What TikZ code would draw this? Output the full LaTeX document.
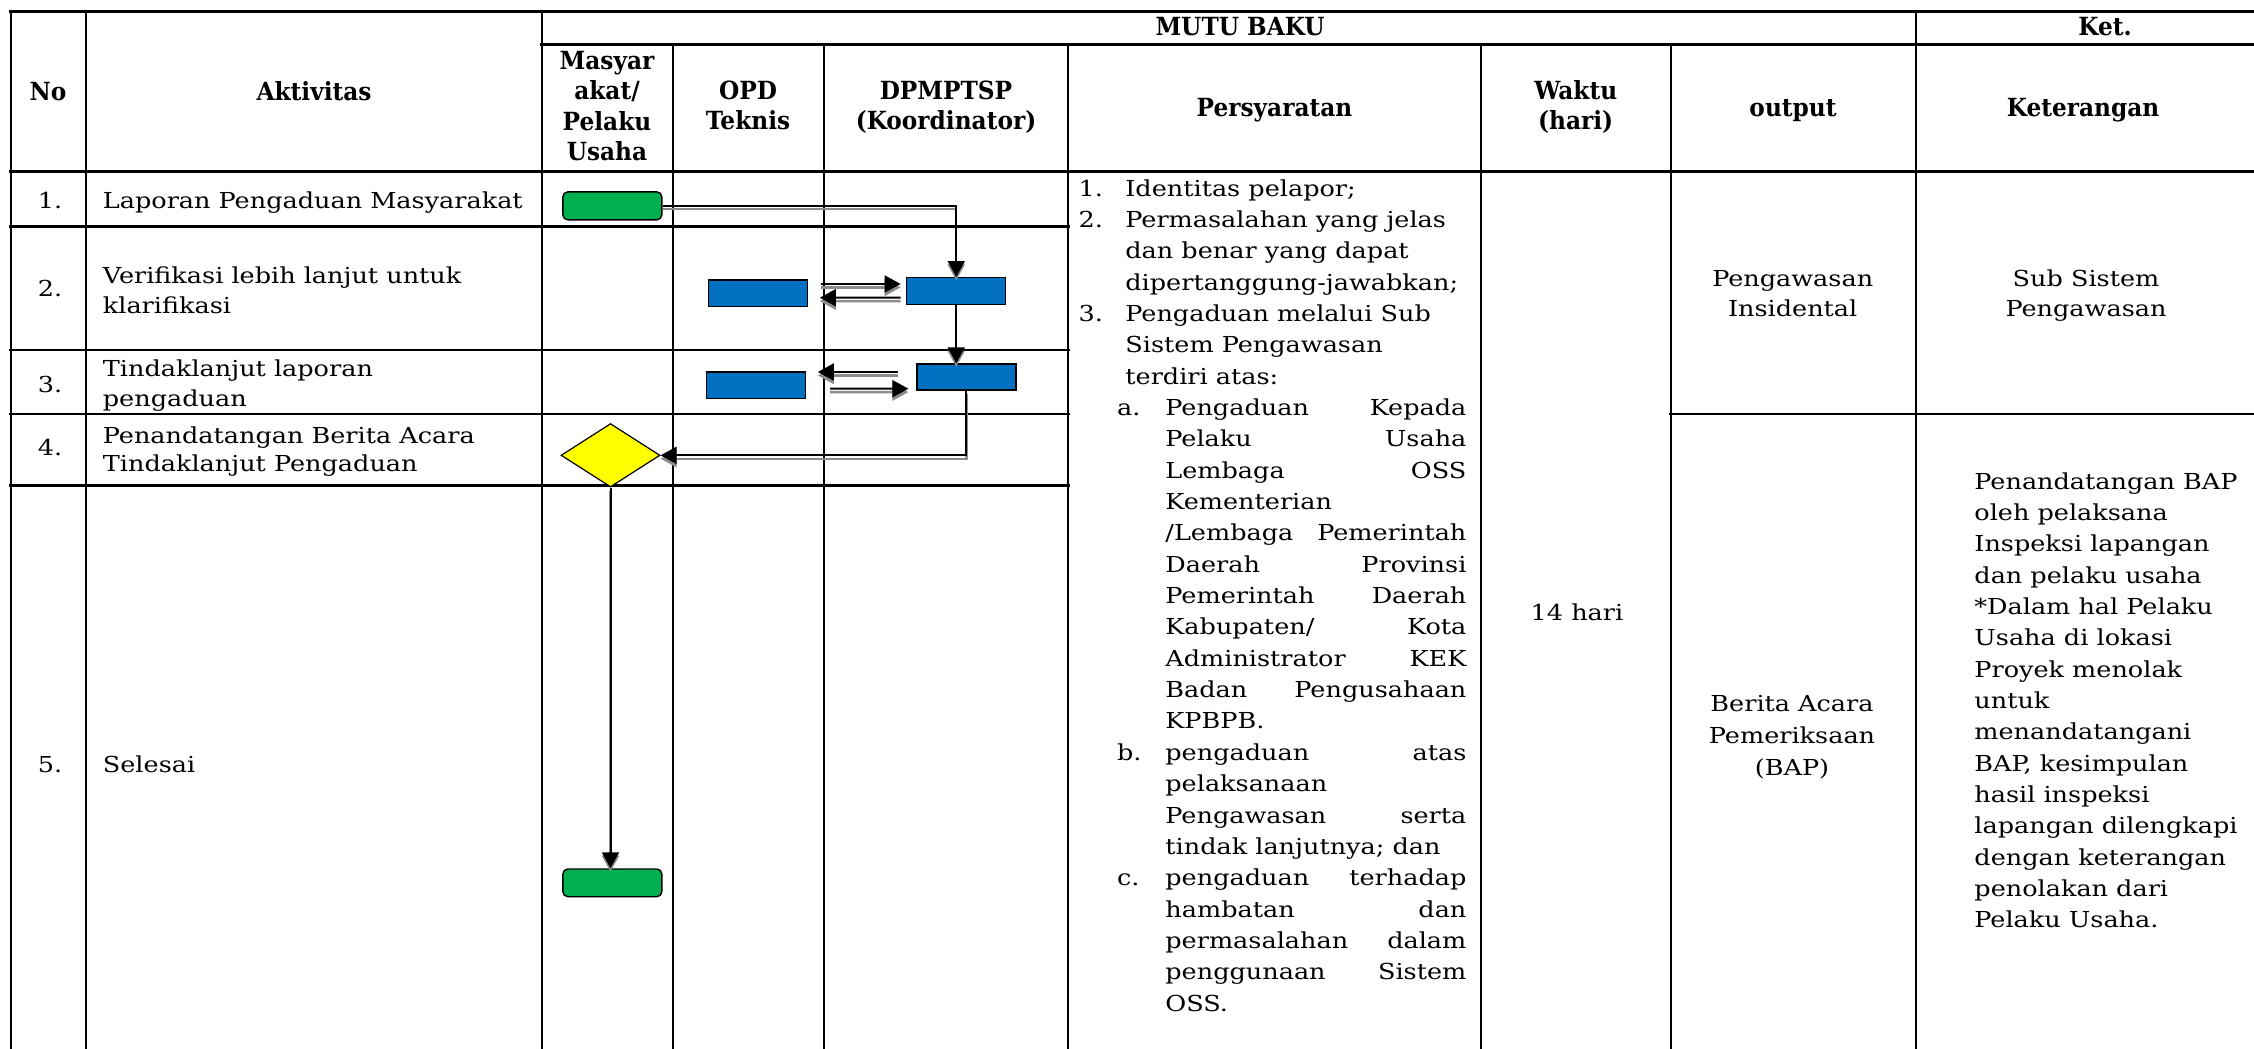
\documentclass[tikz,border=0pt]{standalone}
\usepackage{fontspec}
\setmainfont{DejaVu Serif}[FakeStretch=1.16]
\newfontfamily\hdfont{DejaVu Serif}[FakeStretch=0.93]
\usetikzlibrary{arrows.meta,calc,shapes.geometric}

\definecolor{grn}{HTML}{00B050}
\definecolor{blu}{HTML}{0070C0}
\definecolor{ylw}{HTML}{FFFF00}
\definecolor{shd}{HTML}{8C8C8C}

\newcommand\tl[1]{\begin{tabular}[t]{@{}l@{}}#1\end{tabular}}
\newcommand\tc[1]{\begin{tabular}[t]{@{}c@{}}#1\end{tabular}}
\newcommand\Num[1]{\makebox[23.35pt][l]{#1}}
\newcommand\Ind{\hspace*{23.35pt}}
\newcommand\Sub[1]{\hspace*{19.2pt}\makebox[24.15pt][l]{#1}}
\newcommand\SInd{\hspace*{43.35pt}}
\newcommand\J[1]{\makebox[150.5pt][s]{#1}}

\begin{document}
\begin{tikzpicture}[x=0.5pt,y=-0.5pt,
  hl/.style={line width=1.3pt, line cap=rect},
  vl/.style={line width=1pt},
  txt/.style={inner sep=0pt, font=\fontsize{11}{15.675}\selectfont},
  hdr/.style={inner sep=0pt, font=\hdfont\bfseries\fontsize{12.5}{15.25}\selectfont},
  term/.style={draw=black, line width=0.7pt, fill=grn, rounded corners=2.5pt,
    minimum width=49.5pt, minimum height=14pt, inner sep=0pt},
  proc/.style={draw=black, line width=0.7pt, fill=blu,
    minimum width=49.5pt, minimum height=13.3pt, inner sep=0pt},
  dec/.style={diamond, draw=black, line width=0.6pt, fill=ylw,
    minimum width=49.5pt, minimum height=31.75pt, inner sep=0pt},
  conn/.style={line width=1pt, draw=black, -{Triangle[length=8pt,width=8.5pt]},
    preaction={draw=shd, line width=1.2pt, transform canvas={yshift=-1.7pt}}}
]
\fill[white] (0,0) rectangle (2254,1049);
\useasboundingbox (0,0) rectangle (2254,1049);

% ---------- table grid ----------
\draw[hl] (10.5,11.7) -- (2254,11.7);
\draw[hl] (541.6,44.3) -- (2254,44.3);
\draw[hl] (10.5,171.7) -- (2254,171.7);
\draw[hl] (10.5,226.7) -- (1068.3,226.7);
\draw[hl] (10.5,350) -- (1068.3,350);
\draw[hl] (10.5,414) -- (1068.3,414);
\draw[hl] (1670.7,414) -- (2254,414);
\draw[hl] (10.5,485.7) -- (1068.3,485.7);
\foreach \x in {10.5,86,541.6,1916} \draw[vl] (\x,11.7) -- (\x,1049);
\foreach \x in {672.9,823.6,1068.3,1480.7,1670.7} \draw[vl] (\x,44.3) -- (\x,1049);

% ---------- header ----------
\node[hdr, anchor=base] (hNo)  at (48,100)    {No};
\node[hdr, anchor=base] (hAkt) at (314,100)   {Aktivitas};
\node[hdr, anchor=base] (hMutu) at (1240,35.5) {MUTU BAKU};
\node[hdr, anchor=base] (hKet) at (2105,35.5) {Ket.};
\node[hdr, anchor=base] (hMas) at (607,69)    {\tc{Masyar\\akat/\\Pelaku\\Usaha}};
\node[hdr, anchor=base] (hOpd) at (748,99)    {\tc{OPD\\Teknis}};
\node[hdr, anchor=base] (hDpm) at (946,99)    {\tc{DPMPTSP\\(Koordinator)}};
\node[hdr, anchor=base] (hPer) at (1274.5,116) {Persyaratan};
\node[hdr, anchor=base] (hWak) at (1575.7,99) {\tc{Waktu\\(hari)}};
\node[hdr, anchor=base] (hOut) at (1793,116)  {output};
\node[hdr, anchor=base] (hKtr) at (2083,116)  {Keterangan};

% ---------- numbers & activities ----------
\node[txt, anchor=base] (n1) at (50,208.3) {1.};
\node[txt, anchor=base] (n2) at (50,296)   {2.};
\node[txt, anchor=base] (n3) at (50,392)   {3.};
\node[txt, anchor=base] (n4) at (50,455)   {4.};
\node[txt, anchor=base] (n5) at (50,772)   {5.};
\node[txt, anchor=base west] (a1) at (102.5,208.3) {Laporan Pengaduan Masyarakat};
\node[txt, anchor=base west, font=\fontsize{11}{15}\selectfont] (a2) at (102.5,283.3)
  {\tl{Verifikasi lebih lanjut untuk\\klarifikasi}};
\node[txt, anchor=base west, font=\fontsize{11}{15}\selectfont] (a3) at (102.5,376)
  {\tl{Tindaklanjut laporan\\pengaduan}};
\node[txt, anchor=base west, font=\fontsize{11}{14}\selectfont] (a4) at (102.5,443)
  {\tl{Penandatangan Berita Acara\\Tindaklanjut Pengaduan}};
\node[txt, anchor=base west] (a5) at (102.5,772) {Selesai};

% ---------- requirements ----------
\node[txt, anchor=base west] (req) at (1078.3,196) {\tl{%
\Num{1.}Identitas pelapor;\\
\Num{2.}Permasalahan yang jelas\\
\Ind dan benar yang dapat\\
\Ind dipertanggung-jawabkan;\\
\Num{3.}Pengaduan melalui Sub\\
\Ind Sistem Pengawasan\\
\Ind terdiri atas:\\
\Sub{a.}\J{Pengaduan Kepada}\\
\SInd\J{Pelaku Usaha}\\
\SInd\J{Lembaga OSS}\\
\SInd Kementerian\\
\SInd\J{/Lembaga Pemerintah}\\
\SInd\J{Daerah Provinsi}\\
\SInd\J{Pemerintah Daerah}\\
\SInd\J{Kabupaten/ Kota}\\
\SInd\J{Administrator KEK}\\
\SInd\J{Badan Pengusahaan}\\
\SInd KPBPB.\\
\Sub{b.}\J{pengaduan atas}\\
\SInd pelaksanaan\\
\SInd\J{Pengawasan serta}\\
\SInd tindak lanjutnya; dan\\
\Sub{c.}\J{pengaduan terhadap}\\
\SInd\J{hambatan dan}\\
\SInd\J{permasalahan dalam}\\
\SInd\J{penggunaan Sistem}\\
\SInd OSS.}};

% ---------- time / output / remarks ----------
\node[txt, anchor=base] (wk) at (1577,620) {14 hari};
\node[txt, anchor=base, font=\fontsize{11}{15.25}\selectfont] (oi) at (1792.7,286)
  {\tc{Pengawasan\\Insidental}};
\node[txt, anchor=base, font=\fontsize{11}{15.25}\selectfont] (ks) at (2086,286)
  {\tc{Sub Sistem\\Pengawasan}};
\node[txt, anchor=base, font=\fontsize{11}{16}\selectfont] (bap) at (1792,711)
  {\tc{Berita Acara\\Pemeriksaan\\(BAP)}};
\node[txt, anchor=base west] (kb) at (1974,489) {\tl{%
Penandatangan BAP\\oleh pelaksana\\Inspeksi lapangan\\dan pelaku usaha\\%
{*}Dalam hal Pelaku\\Usaha di lokasi\\Proyek menolak\\untuk\\menandatangani\\%
BAP, kesimpulan\\hasil inspeksi\\lapangan dilengkapi\\dengan keterangan\\%
penolakan dari\\Pelaku Usaha.}};

% ---------- flow shapes ----------
\node[term] (s1) at (612.35,205.85) {};
\node[proc] (v2) at (956.25,291) {};
\node[proc] (o2) at (758.25,293.35) {};
\node[proc, minimum height=13pt] (v3) at (966.4,377) {};
\node[proc] (o3) at (756.25,385.35) {};
\node[dec] (dm) at (610.5,455.3) {};
\node[term, minimum height=13.85pt] (e5) at (612.35,882.85) {};

% ---------- connectors ----------
\draw[conn] (s1.east) -| (v2.north);
\draw[conn] ($(v2.west)+(-85,-7)$) -- ($(v2.west)+(-5.4,-7)$);
\draw[conn] ($(v2.west)+(-5.4,6.7)$) -- ($(o2.east)+(11.4,4.35)$);
\draw[conn] (v2.south) -- (v2.south |- v3.north);
\draw[conn] ($(v3.west)+(-17.8,-5)$) -- ($(o3.east)+(11.4,-13.35)$);
\draw[conn] ($(o3.east)+(23.6,3.35)$) -- ($(v3.west)+(-7.8,11.7)$);
\draw[conn] (v3.south) |- (dm.east);
\draw[conn] (dm.south) -- (dm.south |- e5.north);
\end{tikzpicture}
\end{document}
